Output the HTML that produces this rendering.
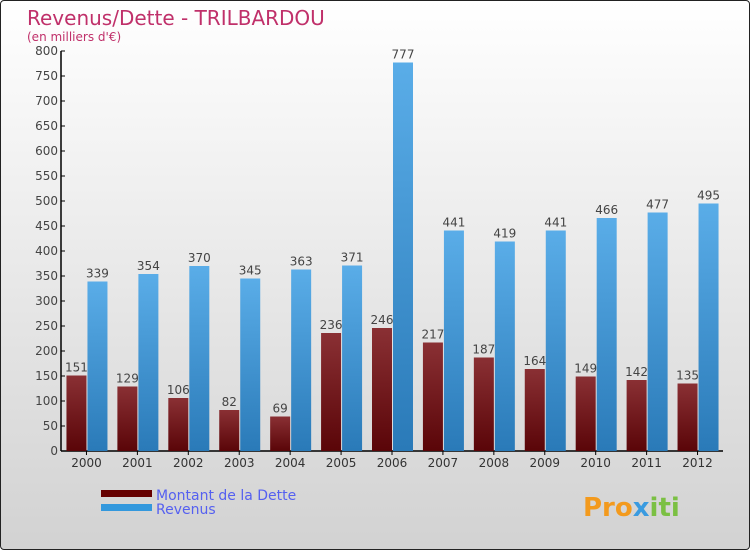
<!DOCTYPE html>
<html><head><meta charset="utf-8"><style>
body{margin:0}
#wrap{position:relative;width:748px;height:548px;border:1px solid #222;border-radius:4px;background:linear-gradient(#fff,#d2d2d2);overflow:hidden;font-family:"DejaVu Sans","Liberation Sans",sans-serif}
</style></head><body>
<div id="wrap">
<svg id="chart" width="748" height="548">
<defs>
<linearGradient id="gd" x1="0" y1="0" x2="0" y2="1"><stop offset="0" stop-color="#8a3034"/><stop offset="1" stop-color="#5a0508"/></linearGradient>
<linearGradient id="gr" x1="0" y1="0" x2="0" y2="1"><stop offset="0" stop-color="#5aade8"/><stop offset="1" stop-color="#2a7ab8"/></linearGradient>
</defs>
<text x="26" y="24" font-size="20" fill="#c0306a">Revenus/Dette - TRILBARDOU</text>
<text x="26" y="40" font-size="12" fill="#c0306a">(en milliers d'€)</text>
<g id="axes"></g><g id="bars"></g>
<rect x="100" y="489" width="51" height="7" fill="#600"/>
<rect x="100" y="503" width="51" height="7" fill="#3398dd"/>
<text x="155" y="499" font-size="14" fill="#5560f0">Montant de la Dette</text>
<text x="155" y="513" font-size="14" fill="#5560f0">Revenus</text>
<text x="582" y="515" font-size="26" font-weight="bold" fill="#f39a1d">Pro<tspan fill="#3a9be0">x</tspan><tspan fill="#7bc043">iti</tspan></text>
</svg></div>
<script>
const years=["2000","2001","2002","2003","2004","2005","2006","2007","2008","2009","2010","2011","2012"];
const dette=[151,129,106,82,69,236,246,217,187,164,149,142,135];
const revenus=[339,354,370,345,363,371,777,441,419,441,466,477,495];
const yTicks=[0,50,100,150,200,250,300,350,400,450,500,550,600,650,700,750,800];
const NS="http://www.w3.org/2000/svg";
const x0=60,x1=722,yb=450,yt=50,ymax=800;
const gw=(x1-x0)/years.length;
const y=v=>yb-(v/ymax)*(yb-yt);
function mk(t,a,p){const e=document.createElementNS(NS,t);for(const k in a)e.setAttribute(k,a[k]);p.appendChild(e);return e;}
const ax=document.getElementById('axes'),bg=document.getElementById('bars');
const yl=mk('line',{x1:x0,y1:yt,x2:x0,y2:yb,stroke:'#000','stroke-width':1.5},ax);


const xl=mk('line',{x1:x0,y1:yb,x2:x1,y2:yb,stroke:'#000','stroke-width':1.5},ax);


yTicks.forEach(v=>{
 mk('line',{x1:x0,y1:y(v),x2:x0+4,y2:y(v),stroke:'#000'},ax);
 const t=mk('text',{x:x0-3,y:y(v)+4,'font-size':12,fill:'#444','text-anchor':'end'},ax);
 t.textContent=v;
 
 
});
years.forEach((yr,i)=>{
 const c=x0+gw*(i+0.5);
 mk('line',{x1:c,y1:yb,x2:c,y2:yb+4,stroke:'#000'},ax);
 const t=mk('text',{x:c,y:yb+16,'font-size':12,fill:'#333','text-anchor':'middle'},ax);
 t.textContent=yr;
 
 
 const b1=mk('rect',{x:c-20,y:y(dette[i]),width:20,height:yb-y(dette[i]),fill:'url(#gd)'},bg);
 
 
 const b2=mk('rect',{x:c+1,y:y(revenus[i]),width:20,height:yb-y(revenus[i]),fill:'url(#gr)'},bg);
 
 
 const l1=mk('text',{x:c-10,y:y(dette[i])-4,'font-size':12,fill:'#444','text-anchor':'middle'},bg);
 l1.textContent=dette[i];
 
 
 const l2=mk('text',{x:c+11,y:y(revenus[i])-4,'font-size':12,fill:'#444','text-anchor':'middle'},bg);
 l2.textContent=revenus[i];
 
 
});
</script>
</body></html>
